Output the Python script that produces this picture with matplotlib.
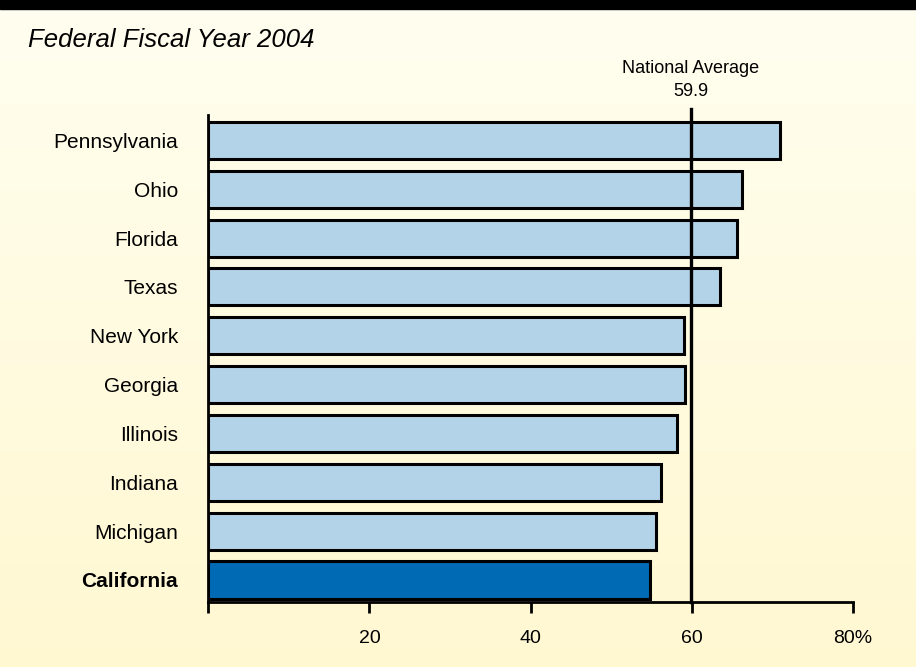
import numpy as np
import matplotlib.pyplot as plt

# data (top to bottom as shown)
states = ["Pennsylvania", "Ohio", "Florida", "Texas", "New York",
          "Georgia", "Illinois", "Indiana", "Michigan", "California"]
values = [71.0, 66.3, 65.7, 63.5, 59.1, 59.2, 58.2, 56.2, 55.6, 54.9]
national_avg = 59.9
xticks = [0, 20, 40, 60, 80]
xticklabels = ["", "20", "40", "60", "80%"]

light = "#B3D3E8"
dark = "#006AB4"

plt.rcParams['font.family'] = ['Liberation Sans', 'DejaVu Sans']

fig = plt.figure(figsize=(9.16, 6.67), dpi=100)

# background gradient + black band on top
bg = fig.add_axes([0, 0, 1, 1], zorder=-10)
grad = np.linspace(0, 1, 256).reshape(-1, 1)
top_col = np.array([1.0, 0.996, 0.94])
bot_col = np.array([1.0, 0.973, 0.82])
img = top_col + (bot_col - top_col) * grad[:, :, None]
bg.imshow(img, aspect="auto", extent=[0, 1, 0, 1], origin="upper")
bg.axhspan(0.9865, 1.0, color="black")
bg.set_xlim(0, 1)
bg.set_ylim(0, 1)
bg.axis("off")

ax = fig.add_axes([0.2276, 0.0975, 0.7031, 0.7301])
ax.patch.set_alpha(0)

ypos = np.arange(len(states))[::-1]
colors = [dark if s == "California" else light for s in states]
ax.barh(ypos, values, height=0.76, color=colors, edgecolor="black",
        linewidth=2.2, zorder=2)

ax.plot([national_avg, national_avg], [0, 1.013], color="black", lw=2.4,
        transform=ax.get_xaxis_transform(), clip_on=False, zorder=3)
ax.text(national_avg, 1.072, "National Average\n59.9", ha="center", va="center",
        fontsize=13, transform=ax.get_xaxis_transform(), linespacing=1.45)

ax.set_xlim(0, 80)
ax.set_ylim(-0.45, 9.52)
ax.set_xticks(xticks)
ax.set_xticklabels(xticklabels, fontsize=14)
ax.tick_params(axis="x", direction="out", length=8, width=2, pad=12)
ax.set_yticks(ypos)
ax.set_yticklabels(states, fontsize=15)
ax.tick_params(axis="y", length=0, pad=22)
for lab in ax.get_yticklabels():
    if lab.get_text() == "California":
        lab.set_fontweight("bold")

for side in ["top", "right"]:
    ax.spines[side].set_visible(False)
for side in ["left", "bottom"]:
    ax.spines[side].set_linewidth(2)

fig.text(0.031, 0.929, "Federal Fiscal Year 2004", fontsize=18.5, style="italic",
         ha="left", va="baseline")

fig.savefig("out.png", dpi=100)
